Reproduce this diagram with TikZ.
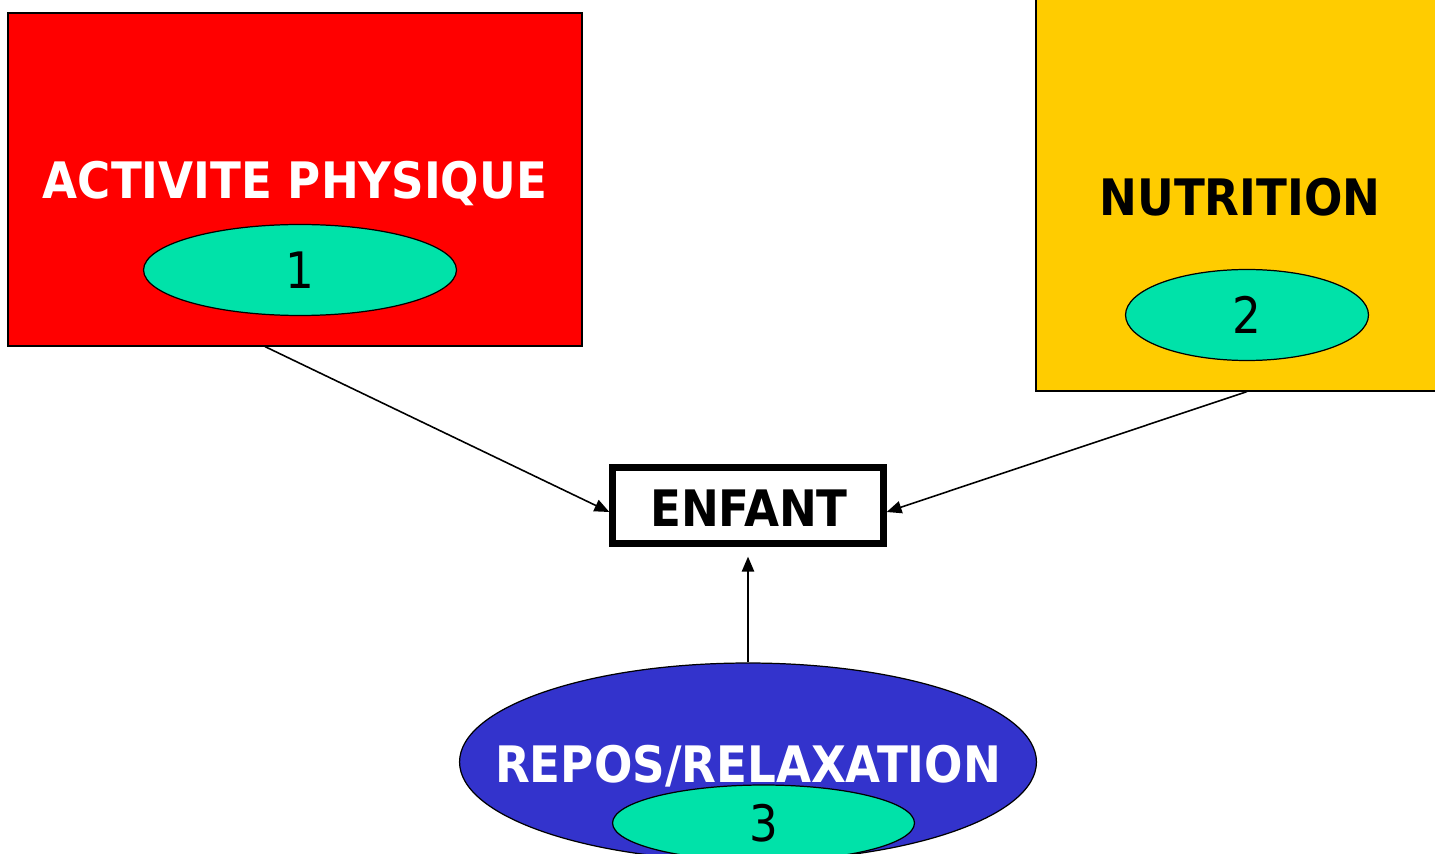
\documentclass[tikz,border=0pt]{standalone}
\usepackage{fontspec}
\setmainfont{DejaVu Sans Condensed}
\usetikzlibrary{shapes,arrows.meta}
\definecolor{rouge}{HTML}{FF0000}
\definecolor{jaune}{HTML}{FFCC00}
\definecolor{bleu}{HTML}{3333CC}
\definecolor{vert}{HTML}{00E2A9}
\newcommand{\grandfont}{\fontsize{28.6}{34}\selectfont}

\begin{document}
\begin{tikzpicture}[x=0.02cm,y=-0.02cm,
    bloc/.style={draw=black, line width=0.7pt, inner sep=0pt},
    bulle/.style={ellipse, draw=black, line width=0.7pt, fill=vert, inner sep=0pt, font=\grandfont, minimum height=1.82cm},
    titre/.style={font=\grandfont\bfseries, anchor=base, inner sep=0pt},
    fleche/.style={line width=0.9pt, -{Triangle[length=8.5pt,width=7pt]}}]
  \useasboundingbox (0,0) rectangle (1435,854);
  % les trois blocs
  \node[bloc, fill=rouge, minimum width=11.48cm, minimum height=6.66cm] (activite) at (295,179.5) {};
  \node[bloc, fill=jaune, minimum width=8.28cm, minimum height=8.22cm] (nutrition) at (1243,185.5) {};
  \node[bloc, ellipse, fill=bleu, minimum width=11.54cm, minimum height=3.96cm] (repos) at (748,762) {};
  \node[draw=black, line width=3.6pt, inner sep=0pt, minimum width=5.42cm, minimum height=1.52cm] (enfant) at (748,505.5) {};
  % textes
  \node[titre, white] (activite-titre) at (295,199) {ACTIVITE PHYSIQUE};
  \node[titre] (nutrition-titre) at (1240,216) {NUTRITION};
  \node[titre] (enfant-titre) at (749,526) {ENFANT};
  \node[titre, white] (repos-titre) at (748,782) {REPOS/RELAXATION};
  % numeros
  \node[bulle, minimum width=6.26cm] (num1) at (300,270) {1};
  \node[bulle, minimum width=4.86cm] (num2) at (1247,315) {2};
  \node[bulle, minimum width=6.04cm, minimum height=1.52cm] (num3) at (763.5,823) {3};
  % fleches
  \draw[fleche] ([xshift=-0.6cm]activite.south) -- ([yshift=-0.13cm]enfant.west);
  \draw[fleche] ([xshift=0.08cm]nutrition.south) -- ([yshift=-0.13cm]enfant.east);
  \draw[fleche, shorten >=0.2cm] (repos.north) -- (enfant.south);
\end{tikzpicture}
\end{document}
